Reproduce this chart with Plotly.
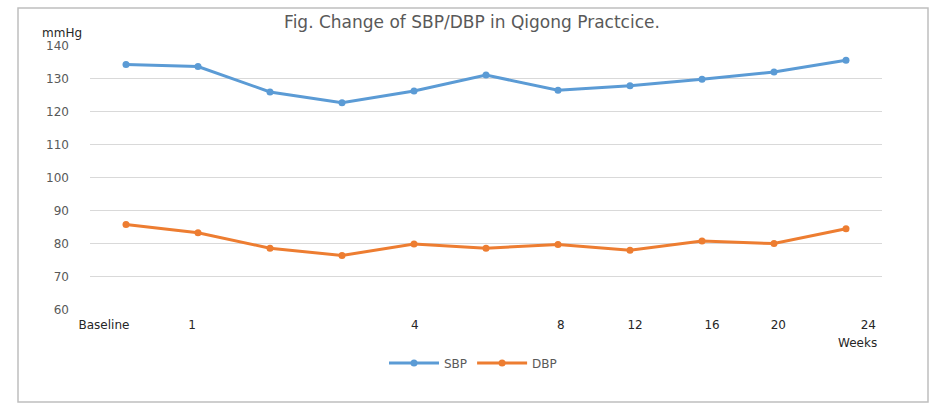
import plotly.graph_objects as go

# ---- data ----
time_points = ["Baseline", "Week 1", "Week 2", "Week 3", "Week 4", "Week 6",
               "Week 8", "Week 12", "Week 16", "Week 20", "Week 24"]
sbp = [134.2, 133.6, 125.9, 122.6, 126.2, 131.0, 126.4, 127.8, 129.7, 131.9, 135.5]
dbp = [85.8, 83.3, 78.6, 76.4, 79.9, 78.6, 79.7, 78.0, 80.8, 80.0, 84.5]
x_tick_labels = ["Baseline", "1", "4", "8", "12", "16", "20", "24"]
y_ticks = [60, 70, 80, 90, 100, 110, 120, 130, 140]

# ---- layout helpers (positions, not data) ----
W, H = 944, 410
L, R, T, B = 90, 62, 45, 100
pw, ph = W - L - R, H - T - B
label_pos = [-0.306, 0.917, 4.01, 6.04, 7.07, 8.14, 9.06, 10.31]

xi = list(range(len(time_points)))

fig = go.Figure()
fig.add_trace(go.Scatter(
    x=xi, y=sbp, name="SBP", mode="lines+markers",
    line=dict(color="#5B9BD5", width=3),
    marker=dict(color="#5B9BD5", size=7),
    text=time_points, hovertemplate="%{text}: %{y}<extra>SBP</extra>"))
fig.add_trace(go.Scatter(
    x=xi, y=dbp, name="DBP", mode="lines+markers",
    line=dict(color="#ED7D31", width=3),
    marker=dict(color="#ED7D31", size=7),
    text=time_points, hovertemplate="%{text}: %{y}<extra>DBP</extra>"))

def px_to_paper_x(px):
    return (px - L) / pw

def py_to_paper_y(py):
    return (H - B - py) / ph

fig.update_layout(
    width=W, height=H,
    margin=dict(l=L, r=R, t=T, b=B),
    paper_bgcolor="white", plot_bgcolor="white",
    font=dict(family="DejaVu Sans", size=12, color="#595959"),
    title=dict(text="Fig. Change of SBP/DBP in Qigong Practcice.",
               x=px_to_paper_x(472), xref="paper", xanchor="center",
               y=1 - 22 / H, yanchor="middle",
               font=dict(family="DejaVu Sans", size=17, color="#595959")),
    xaxis=dict(range=[-0.5, 10.5], tickmode="array", tickvals=label_pos,
               ticktext=x_tick_labels, showgrid=False, zeroline=False,
               showline=False, ticks="", ticklabelstandoff=6,
               tickfont=dict(family="DejaVu Sans", size=12, color="#262626")),
    yaxis=dict(range=[59.9, 140.1], tickmode="array", tickvals=y_ticks,
               showgrid=True, gridcolor="#D9D9D9", gridwidth=1,
               zeroline=False, showline=False, ticks="", ticklabelstandoff=20,
               tickfont=dict(family="DejaVu Sans", size=12, color="#595959")),
    legend=dict(orientation="h", x=px_to_paper_x(473), xanchor="center",
                y=py_to_paper_y(363), yanchor="middle",
                font=dict(family="DejaVu Sans", size=12, color="#595959"),
                itemwidth=50, tracegroupgap=0),
    showlegend=True,
)

fig.add_annotation(text="mmHg", xref="paper", yref="paper",
                   x=px_to_paper_x(62), y=py_to_paper_y(33),
                   xanchor="center", yanchor="middle", showarrow=False,
                   font=dict(family="DejaVu Sans", size=12, color="#262626"))
fig.add_annotation(text="Weeks", xref="paper", yref="paper",
                   x=px_to_paper_x(857), y=py_to_paper_y(343),
                   xanchor="center", yanchor="middle", showarrow=False,
                   font=dict(family="DejaVu Sans", size=12, color="#262626"))

# chart frame
fig.add_shape(type="rect", xref="paper", yref="paper",
              x0=px_to_paper_x(18), x1=px_to_paper_x(928),
              y0=py_to_paper_y(402), y1=py_to_paper_y(8),
              line=dict(color="#BFBFBF", width=1.5), layer="below")

fig.write_html("out.html", config={"displayModeBar": False},
               post_script="document.body.style.margin='0';document.body.style.overflow='hidden';")
